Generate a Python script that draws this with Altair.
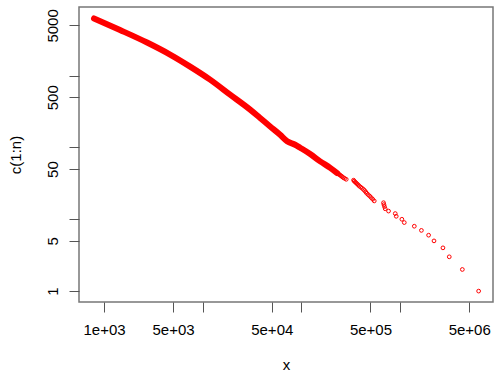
import altair as alt
import pandas as pd

# Individual (sparse) points: rank and x value
top_rank = [1, 2, 3, 4, 5, 6, 7, 8, 9, 10, 11, 12, 13, 14, 15, 16, 17, 18, 19, 20,
            21, 22, 23, 24, 25, 26, 27, 28, 29, 30, 31, 32, 33, 34, 35, 36, 37, 38,
            39, 40, 41, 42, 43, 44]
top_x = [6.23e6, 4.26e6, 3.14e6, 2.71e6, 2.20e6, 1.94e6, 1.64e6, 1.39e6, 1.10e6, 1.04e6,
         9.12e5, 8.91e5, 7.62e5, 7.05e5, 6.94e5, 6.84e5, 6.78e5, 5.46e5, 5.27e5, 5.09e5,
         4.91e5, 4.74e5, 4.58e5, 4.48e5, 4.37e5, 4.25e5, 4.12e5, 3.98e5, 3.85e5, 3.76e5,
         3.67e5, 3.58e5, 3.50e5, 3.42e5, 3.37e5, 2.84e5, 2.74e5, 2.65e5, 2.59e5, 2.53e5,
         2.47e5, 2.41e5, 2.36e5, 2.30e5]

# Dense part of the curve (points overlap into a solid band): readings along it
dense_rank = [44, 52, 64, 81, 99, 109, 122, 150, 196, 257, 336, 543, 879, 1335,
              1963, 2886, 4312, 6240]
dense_x = [2.30e5, 1.955e5, 1.547e5, 1.225e5, 9.7e4, 8.63e4, 7.16e4, 6.08e4, 4.815e4,
           3.81e4, 3.02e4, 1.892e4, 1.187e4, 7448, 4667, 2729, 1453, 792]

x_ticks = [1e3, 5e3, 1e4, 5e4, 1e5, 5e5, 1e6, 5e6]
y_ticks = [1, 5, 10, 50, 100, 500, 1000, 5000]

top_df = pd.DataFrame({"x": top_x, "n": top_rank})
dense_df = pd.DataFrame({"x": dense_x, "n": dense_rank})

FONT = "Liberation Sans"
RED = "#FF0000"

xscale = alt.Scale(type="log", domain=[558, 8.71e6], nice=False)
yscale = alt.Scale(type="log", domain=[0.705, 9017], nice=False)

xaxis = alt.Axis(
    values=x_ticks,
    labelExpr="datum.value == 1000 ? '1e+03' : datum.value == 5000 ? '5e+03' : "
              "datum.value == 50000 ? '5e+04' : datum.value == 500000 ? '5e+05' : "
              "datum.value == 5000000 ? '5e+06' : ''",
    title="x", grid=False, domain=False,
    tickSize=10, tickColor="#555555", tickWidth=1,
    labelFont=FONT, labelFontSize=15, labelColor="black", labelPadding=10,
    labelOverlap=False, labelFlush=False,
    titleFont=FONT, titleFontSize=15, titleFontWeight="normal", titleColor="black",
    titlePadding=20,
)
yaxis = alt.Axis(
    values=y_ticks,
    labelExpr="(datum.value == 1 || datum.value == 5 || datum.value == 50 || "
              "datum.value == 500 || datum.value == 5000) ? format(datum.value, 'd') : ''",
    title="c(1:n)", grid=False, domain=False,
    tickSize=10, tickColor="#555555", tickWidth=1,
    labelFont=FONT, labelFontSize=15, labelColor="black", labelPadding=9,
    labelAngle=270, labelAlign="center", labelBaseline="bottom",
    labelOverlap=False, labelFlush=False,
    titleFont=FONT, titleFontSize=15, titleFontWeight="normal", titleColor="black",
    titlePadding=22,
)

band = alt.Chart(dense_df).mark_line(
    color=RED, strokeWidth=6, strokeCap="round", strokeJoin="round",
    interpolate="monotone"
).encode(
    x=alt.X("x:Q", scale=xscale, axis=xaxis),
    y=alt.Y("n:Q", scale=yscale, axis=yaxis),
    order="n:Q",
)

pts = alt.Chart(top_df).mark_point(
    shape="circle", filled=False, color=RED, size=14, strokeWidth=1, opacity=1
).encode(
    x=alt.X("x:Q", scale=xscale),
    y=alt.Y("n:Q", scale=yscale),
)

chart = alt.layer(band, pts).properties(
    width=414, height=295,
    autosize=alt.AutoSizeParams(type="none"),
    padding={"left": 79, "top": 7, "right": 1, "bottom": 73},
    background="white",
).configure_view(stroke="#777777", strokeWidth=1.5)

chart.save("out.html", embed_options={"renderer": "svg", "actions": False})
